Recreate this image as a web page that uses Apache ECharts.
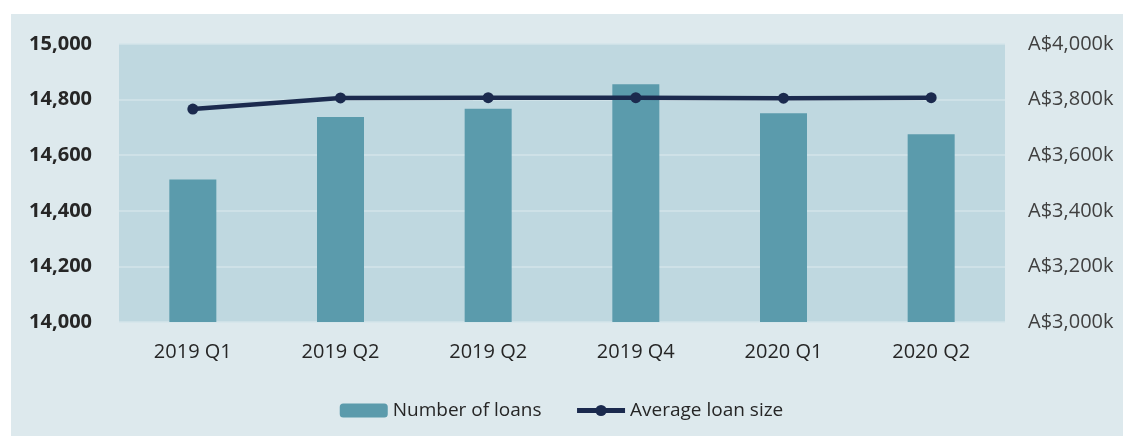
<!DOCTYPE html>
<html>
<head>
<meta charset="utf-8">
<script src="https://cdn.jsdelivr.net/npm/echarts@6/dist/echarts.min.js"></script>
<style>
html,body{margin:0;padding:0;background:#ffffff;}
#c{width:1123px;height:436px;}
</style>
</head>
<body>
<div id="c"></div>
<script>
const categories = ['2019 Q1', '2019 Q2', '2019 Q2', '2019 Q4', '2020 Q1', '2020 Q2'];
const numberOfLoans = [14513, 14737, 14767, 14855, 14751, 14675];
const averageLoanSize = [3766, 3806, 3807, 3807, 3805, 3807];
const leftTicks = { min: 14000, max: 15000, interval: 200 };
const rightTicks = { min: 3000, max: 4000, interval: 200 };

const FONT = '"Open Sans", sans-serif';
const chart = echarts.init(document.getElementById('c'), null, { renderer: 'canvas' });
chart.setOption({
  backgroundColor: 'transparent',
  animation: false,
  graphic: [{
    type: 'rect', z: -100, silent: true,
    shape: { x: 11, y: 14, width: 1112, height: 422 },
    style: { fill: '#dde9ed' }
  }],
  grid: {
    left: 119, right: 118, top: 44, bottom: 114,
    show: true, backgroundColor: '#bfd8e0', borderWidth: 0
  },
  legend: {
    top: 396, left: 'center',
    itemWidth: 48, itemHeight: 14, itemGap: 33,
    textStyle: { fontFamily: FONT, fontSize: 19, color: '#262626' },
    data: [
      { name: 'Number of loans' },
      { name: 'Average loan size', lineStyle: { width: 5 }, itemStyle: { color: '#1b2a4e' } }
    ]
  },
  xAxis: {
    type: 'category', data: categories,
    axisLine: { show: false }, axisTick: { show: false },
    axisLabel: { fontFamily: FONT, fontSize: 20, color: '#262626', margin: 20 }
  },
  yAxis: [{
    type: 'value', min: leftTicks.min, max: leftTicks.max, interval: leftTicks.interval,
    axisLine: { show: false }, axisTick: { show: false },
    axisLabel: {
      fontFamily: FONT, fontSize: 20, fontWeight: 'bold', color: '#262626', margin: 27,
      formatter: v => v.toLocaleString('en-US')
    },
    splitLine: { lineStyle: { color: '#d3e4ea', width: 1.5 } }
  }, {
    type: 'value', min: rightTicks.min, max: rightTicks.max, interval: rightTicks.interval,
    axisLine: { show: false }, axisTick: { show: false },
    axisLabel: {
      fontFamily: FONT, fontSize: 20, color: '#404040', margin: 23,
      formatter: v => 'A$' + v.toLocaleString('en-US') + 'k'
    },
    splitLine: { show: false }
  }],
  series: [{
    name: 'Number of loans', type: 'bar', data: numberOfLoans,
    barWidth: 47, itemStyle: { color: '#5b9bac' }, yAxisIndex: 0
  }, {
    name: 'Average loan size', type: 'line', data: averageLoanSize, yAxisIndex: 1,
    symbol: 'circle', symbolSize: 11,
    lineStyle: { color: '#1b2a4e', width: 4.5 },
    itemStyle: { color: '#1b2a4e' }
  }]
});
</script>
</body>
</html>
